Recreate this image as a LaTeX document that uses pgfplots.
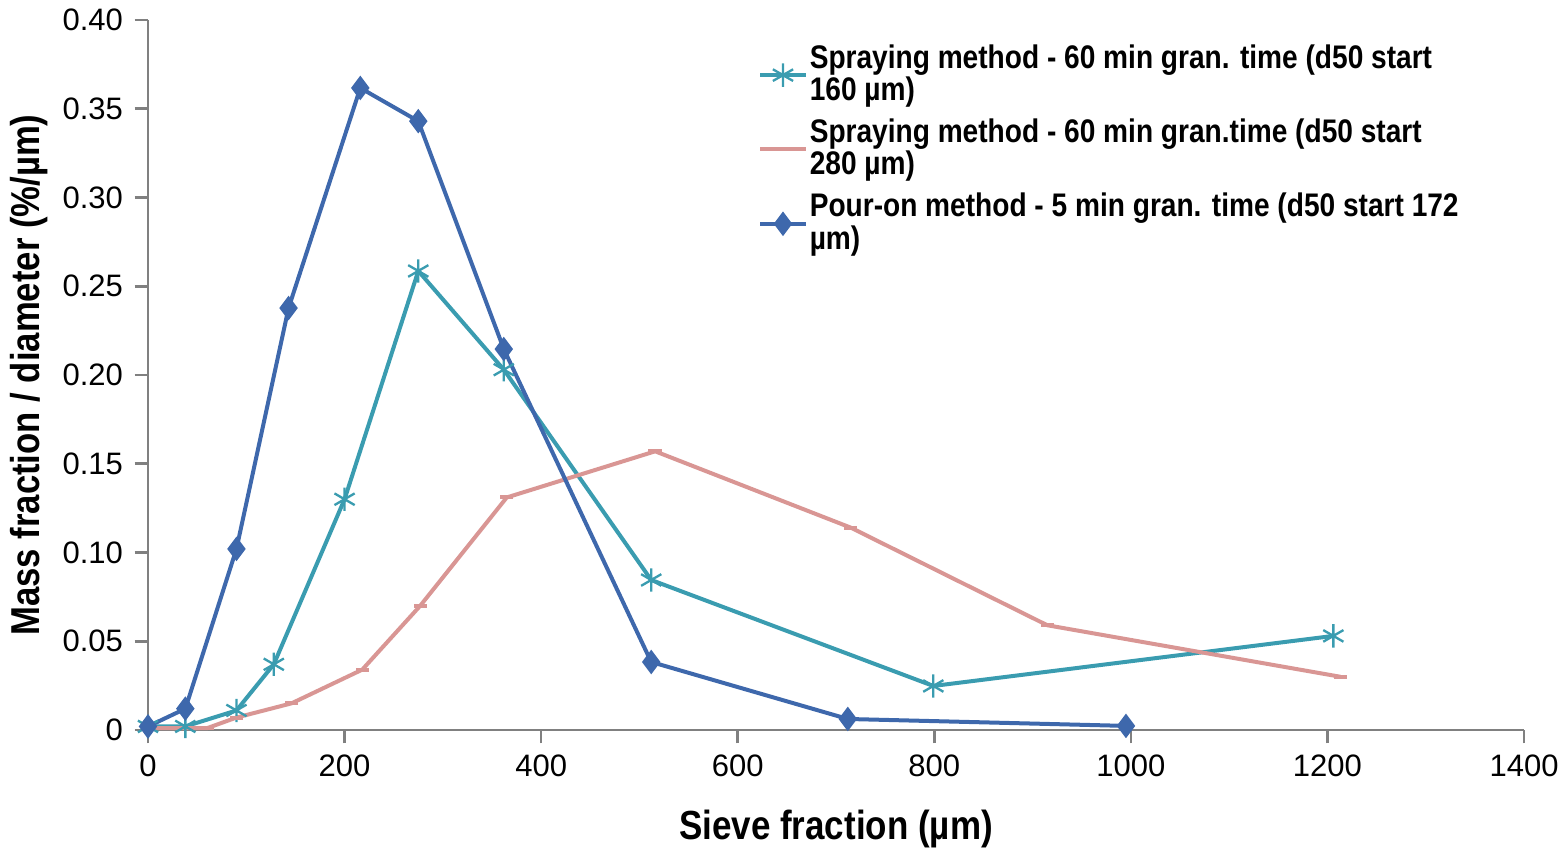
\documentclass[border=0pt]{standalone}
\usepackage{pgfplots}
\pgfplotsset{compat=1.18}
\usepackage{fontspec}
\setmainfont{Liberation Sans}
\newfontfamily\narrowbold[FakeStretch=0.86]{Liberation Sans Bold}
\definecolor{cTeal}{RGB}{58,156,176}
\definecolor{cPink}{RGB}{217,150,148}
\definecolor{cBlue}{RGB}{62,104,172}
\definecolor{cAxis}{RGB}{128,128,128}
\begin{document}
\begin{tikzpicture}
\begin{axis}[name=ax,
  scale only axis, width=412.8pt, height=213pt,
  xmin=0, xmax=1400, ymin=0, ymax=0.40,
  axis lines=left, axis line style={-, cAxis, line width=0.8pt},
  xtick={0,200,...,1400}, ytick={0,0.05,0.10,0.15,0.20,0.25,0.30,0.35,0.40},
  xticklabels={0,200,400,600,800,1000,1200,1400},
  yticklabels={0,0.05,0.10,0.15,0.20,0.25,0.30,0.35,0.40},
  tick align=outside, major tick length=4pt,
  tick style={cAxis, line width=0.8pt},
  ticklabel style={font=\fontsize{9.3}{11}\selectfont},
  xlabel={\narrowbold\fontsize{12.2}{14}\selectfont Sieve fraction (µm)},
  ylabel={\narrowbold\fontsize{12.1}{14}\selectfont Mass fraction / diameter (\%/µm)},
  xlabel style={yshift=-3pt},
  ylabel style={yshift=-2.5pt},
  legend style={draw=none, fill=none, at={(rel axis cs:0.443,0.985)}, anchor=north west,
    font=\narrowbold\fontsize{9.8}{9.7}\selectfont, cells={align=left},
    row sep=0pt, inner xsep=0pt, nodes={inner xsep=0.6pt}},
  legend cell align=left,
  legend image code/.code={\draw[mark repeat=2,mark phase=2] plot coordinates {(0cm,0cm) (0.24cm,0cm) (0.48cm,0cm)};},
  clip=false,
]
\addplot[cTeal, line width=1.2pt, mark=asterisk, mark size=3.5pt, mark options={line width=0.7pt}]
coordinates {(0,0.002) (38,0.002) (90,0.011) (128,0.037) (200,0.130) (275,0.2586) (362,0.203) (512,0.0845) (799,0.0248) (1206,0.053)};
\addlegendentry{Spraying method - 60 min gran. time (d50 start\\160 µm)}
\addplot[cPink, line width=1.2pt, mark=-, mark size=2pt, mark options={line width=1.2pt}]
coordinates {(0,0.001) (60,0.001) (90,0.007) (146,0.015) (218,0.034) (277,0.070) (365,0.131) (516,0.157) (715,0.114) (915,0.059) (1213,0.030)};
\addlegendentry{Spraying method - 60 min gran.time (d50 start\\280 µm)}
\addplot[cBlue, line width=1.2pt, mark=diamond*, mark size=2.7pt, mark options={fill=cBlue}]
coordinates {(0,0.002) (38,0.012) (90,0.102) (143,0.2377) (216,0.3617) (275,0.343) (362,0.2146) (512,0.0383) (712,0.0062) (995,0.0023)};
\addlegendentry{Pour-on method - 5 min gran. time (d50 start 172\\µm)}
\end{axis}
\pgfresetboundingbox
\path ([shift={(-44.4pt,-35.7pt)}]ax.south west) rectangle ([shift={(12.3pt,6pt)}]ax.north east);
\end{tikzpicture}
\end{document}
